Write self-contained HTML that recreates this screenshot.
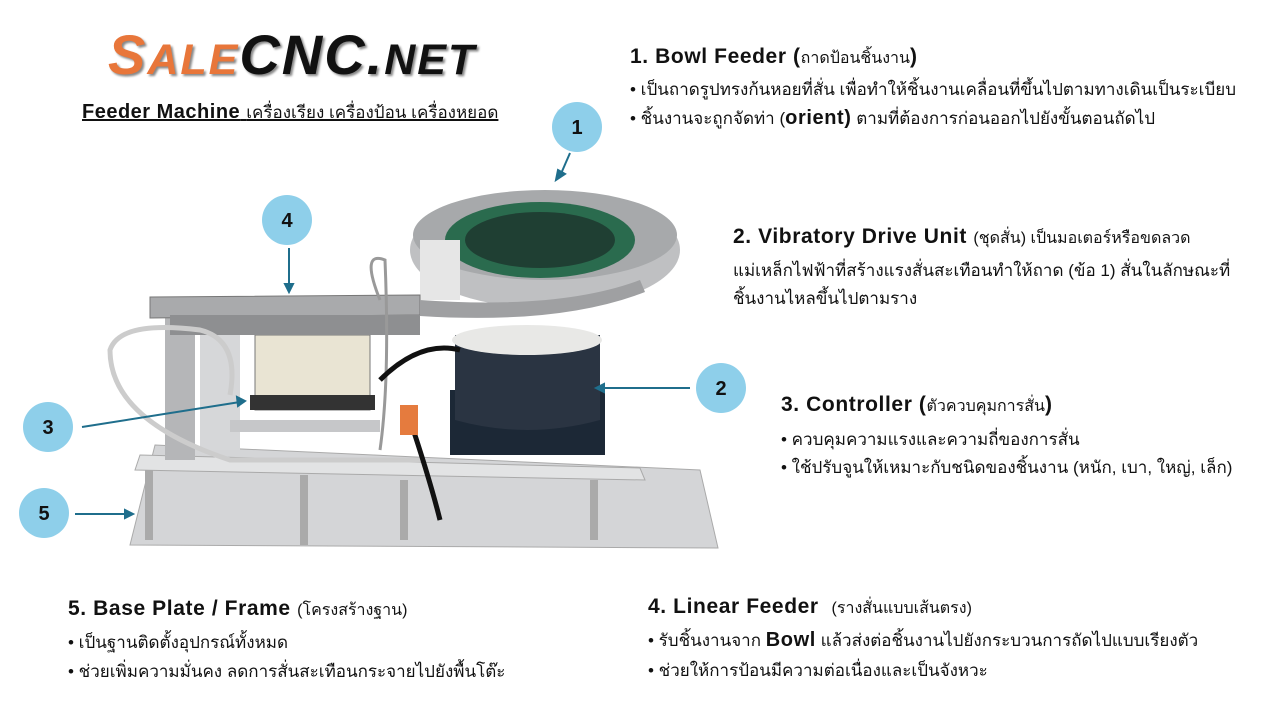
<!DOCTYPE html>
<html><head><meta charset="utf-8"><style>
body{margin:0;width:1280px;height:720px;background:#fff;position:relative;overflow:hidden;font-family:"Liberation Sans","Noto Sans CJK SC",sans-serif;color:#111}
.t{position:absolute;white-space:nowrap}
.h{font-size:21px;font-weight:bold;letter-spacing:0.6px}
.h small{font-size:16px;font-weight:normal;letter-spacing:0}
.b{font-size:17px}
.logo{position:absolute;left:108px;top:22px;font-family:"Liberation Sans",sans-serif;font-weight:900;font-style:italic;font-size:56px;letter-spacing:2px;text-shadow:2px 2px 2px #888}
</style></head><body>
<div class="logo"><span style="color:#e8763a">S<span style="font-size:43px">ALE</span></span><span style="color:#111">CNC.<span style="font-size:43px">NET</span></span></div>
<div class="t" style="left:82px;top:99px;font-size:20px;text-decoration:underline;letter-spacing:0.5px"><b>Feeder Machine</b> <span style="font-size:17px;letter-spacing:0">เครื่องเรียง เครื่องป้อน เครื่องหยอด</span></div>

<svg width="1280" height="720" style="position:absolute;left:0;top:0">
<polygon points="155,445 700,470 718,548 130,545" fill="#d4d5d7" stroke="#aaa"/>
<polygon points="140,455 640,468 645,480 135,470" fill="#e2e3e4" stroke="#aaa"/>
<rect x="145" y="470" width="8" height="70" fill="#aaa"/><rect x="300" y="475" width="8" height="70" fill="#aaa"/>
<rect x="590" y="480" width="8" height="60" fill="#aaa"/><rect x="400" y="480" width="8" height="60" fill="#aaa"/>
<rect x="165" y="310" width="30" height="150" fill="#b5b6b8"/>
<rect x="200" y="330" width="40" height="120" fill="#d6d7d9"/>
<rect x="230" y="420" width="150" height="12" fill="#c6c7c9"/>
<rect x="255" y="335" width="115" height="75" fill="#e9e4d3" stroke="#777"/>
<rect x="250" y="395" width="125" height="15" fill="#333"/>
<rect x="450" y="390" width="155" height="65" fill="#1c2836"/>
<path d="M455,335 L600,335 L600,420 Q527,440 455,420 Z" fill="#2a3442"/>
<ellipse cx="527" cy="340" rx="75" ry="15" fill="#e8e8e6"/>
<ellipse cx="545" cy="250" rx="135" ry="58" fill="#bfc0c2"/>
<ellipse cx="545" cy="235" rx="132" ry="45" fill="#a7a9ab"/>
<ellipse cx="540" cy="240" rx="95" ry="38" fill="#2a6b4e"/>
<ellipse cx="540" cy="240" rx="75" ry="28" fill="#1f3f33"/>
<rect x="420" y="240" width="40" height="60" fill="#e6e6e6"/>
<polygon points="150,297 420,295 420,315 150,318" fill="#a9aaac" stroke="#777"/>
<rect x="170" y="315" width="250" height="20" fill="#8e8f91"/>
<path d="M420,300 Q560,310 640,280 L645,292 Q560,325 420,316 Z" fill="#9fa0a2"/>
<path d="M230,395 Q240,340 200,330 Q120,320 110,350 Q110,420 230,460 L420,460" stroke="#ccc" stroke-width="5" fill="none"/>
<path d="M380,300 Q360,250 385,260 Q390,380 380,450" stroke="#999" stroke-width="3" fill="none"/>
<path d="M380,380 Q420,340 460,350" stroke="#111" stroke-width="5" fill="none"/>
<path d="M410,420 Q430,480 440,520" stroke="#111" stroke-width="5" fill="none"/>
<rect x="400" y="405" width="18" height="30" fill="#e57b3e"/>
<g stroke="#1f6e8c" stroke-width="2" fill="#1f6e8c">
<line x1="570" y1="153" x2="560" y2="176"/><polygon points="556,180 558,170 565,174"/>
<line x1="289" y1="248" x2="289" y2="288"/><polygon points="289,292 285,284 293,284"/>
<line x1="690" y1="388" x2="600" y2="388"/><polygon points="596,388 604,384 604,392"/>
<line x1="82" y1="427" x2="240" y2="402"/><polygon points="245,401 237,397 238,406"/>
<line x1="75" y1="514" x2="128" y2="514"/><polygon points="133,514 125,510 125,518"/>
</g>
<g fill="#8ecfea" font-family="Liberation Sans" font-weight="bold" font-size="20" text-anchor="middle">
<circle cx="577" cy="127" r="25"/><circle cx="287" cy="220" r="25"/><circle cx="721" cy="388" r="25"/><circle cx="48" cy="427" r="25"/><circle cx="44" cy="513" r="25"/>
<g fill="#111"><text x="577" y="134">1</text><text x="287" y="227">4</text><text x="721" y="395">2</text><text x="48" y="434">3</text><text x="44" y="520">5</text></g>
</g>
</svg>

<div class="t h" style="left:630px;top:45px">1. Bowl Feeder (<small>ถาดป้อนชิ้นงาน</small>)</div>
<div class="t b" style="left:630px;top:76px">• เป็นถาดรูปทรงก้นหอยที่สั่น เพื่อทำให้ชิ้นงานเคลื่อนที่ขึ้นไปตามทางเดินเป็นระเบียบ</div>
<div class="t b" style="left:630px;top:105px">• ชิ้นงานจะถูกจัดท่า (<b style="font-size:20px;letter-spacing:0.6px">orient)</b> ตามที่ต้องการก่อนออกไปยังขั้นตอนถัดไป</div>

<div class="t h" style="left:733px;top:225px">2. Vibratory Drive Unit <small>(ชุดสั่น) เป็นมอเตอร์หรือขดลวด</small></div>
<div class="t b" style="left:733px;top:257px">แม่เหล็กไฟฟ้าที่สร้างแรงสั่นสะเทือนทำให้ถาด (ข้อ 1) สั่นในลักษณะที่</div>
<div class="t b" style="left:733px;top:285px">ชิ้นงานไหลขึ้นไปตามราง</div>

<div class="t h" style="left:781px;top:393px">3. Controller (<small>ตัวควบคุมการสั่น</small>)</div>
<div class="t b" style="left:781px;top:426px">• ควบคุมความแรงและความถี่ของการสั่น</div>
<div class="t b" style="left:781px;top:454px">• ใช้ปรับจูนให้เหมาะกับชนิดของชิ้นงาน (หนัก, เบา, ใหญ่, เล็ก)</div>

<div class="t h" style="left:648px;top:595px">4. Linear Feeder &nbsp;<small>(รางสั่นแบบเส้นตรง)</small></div>
<div class="t b" style="left:648px;top:627px">• รับชิ้นงานจาก <b style="font-size:20px;letter-spacing:0.6px">Bowl</b> แล้วส่งต่อชิ้นงานไปยังกระบวนการถัดไปแบบเรียงตัว</div>
<div class="t b" style="left:648px;top:657px">• ช่วยให้การป้อนมีความต่อเนื่องและเป็นจังหวะ</div>

<div class="t h" style="left:68px;top:597px">5. Base Plate / Frame <small>(โครงสร้างฐาน)</small></div>
<div class="t b" style="left:68px;top:629px">• เป็นฐานติดตั้งอุปกรณ์ทั้งหมด</div>
<div class="t b" style="left:68px;top:658px">• ช่วยเพิ่มความมั่นคง ลดการสั่นสะเทือนกระจายไปยังพื้นโต๊ะ</div>
</body></html>
